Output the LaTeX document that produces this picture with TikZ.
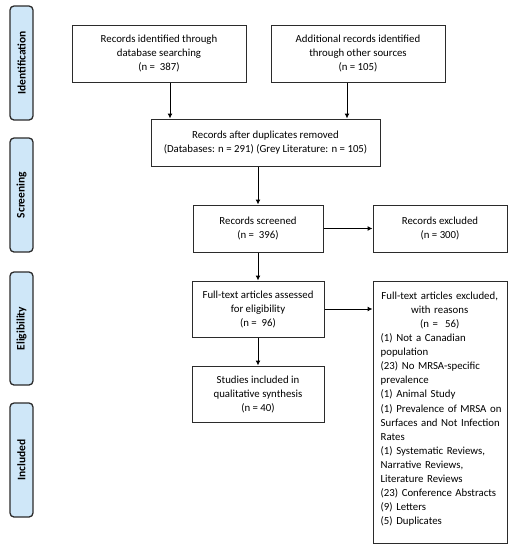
\documentclass[tikz,border=0pt]{standalone}
\usepackage{fontspec}
\setmainfont{Carlito}
\usetikzlibrary{arrows.meta,calc}
\definecolor{tabfill}{HTML}{CFE7F8}
\definecolor{edge}{HTML}{2B2B2B}
\newcommand{\hdline}[1]{\makebox[118pt][c]{#1}}
\tikzset{
  box/.style={draw=edge, line width=1pt, fill=white, align=center, inner sep=2pt,
    font=\fontsize{10.8}{14}\selectfont},
  tab/.style={draw=edge, line width=1.3pt, fill=tabfill, rounded corners=4pt,
    minimum width=23pt, inner sep=0pt},
  tablabel/.style={rotate=90, inner sep=0pt, font=\fontsize{11.5}{13}\selectfont\bfseries},
  arr/.style={-{Latex[length=5pt,width=5pt]}, line width=1pt, draw=black},
}
\begin{document}
\begin{tikzpicture}[x=1pt,y=-1pt]
\useasboundingbox (0,0) rectangle (512,550);
% phase tabs
\node[tab, minimum height=114pt] (t1) at (21.5,63) {};
\node[tablabel] (t1l) at (t1.center) {Identification};
\node[tab, minimum height=114pt] (t2) at (21.5,195) {};
\node[tablabel] (t2l) at (t2.center) {Screening};
\node[tab, minimum height=113pt] (t3) at (21.5,328.5) {};
\node[tablabel] (t3l) at (t3.center) {Eligibility};
\node[tab, minimum height=114pt] (t4) at (21.5,460) {};
\node[tablabel] (t4l) at (t4.center) {Included};
% boxes
\node[box, minimum width=174pt, minimum height=57pt] (b1) at (159,53.5)
  {Records identified through\\ database searching\\ (n =~~387)};
\node[box, minimum width=174pt, minimum height=57pt] (b2) at (358,53.5)
  {Additional records identified\\ through other sources\\ (n = 105)};
\node[box, minimum width=229pt, minimum height=47pt] (b3) at (265.5,142.5)
  {Records after duplicates removed\\ (Databases: n = 291) (Grey Literature: n = 105)};
\node[box, minimum width=130pt, minimum height=47pt] (b4) at (258,228.5)
  {Records screened\\ (n =~~396)};
\node[box, minimum width=134pt, minimum height=47pt] (b5) at (440,228.5)
  {Records excluded\\ (n = 300)};
\node[box, minimum width=132pt, minimum height=56pt] (b6) at (258,309)
  {Full-text articles assessed\\ for eligibility\\ (n =~~96)};
\node[box, minimum width=134pt, minimum height=262pt] (b7) at (440,412) {};
\node[anchor=north west, inner sep=0pt, text width=150pt, align=left,
  font=\fontsize{10.8}{14.1}\selectfont] (b7t) at ($(b7.north west)+(8,11)$)
  {\hdline{Full-text articles excluded,}\\ \hdline{with reasons}\\ \hdline{(n =~~56)}\\
   (1) Not a Canadian\\ population\\ (23) No MRSA-specific\\ prevalence\\
   (1) Animal Study\\ (1) Prevalence of MRSA on\\ Surfaces and Not Infection\\ Rates\\
   (1) Systematic Reviews,\\ Narrative Reviews,\\ Literature Reviews\\
   (23) Conference Abstracts\\ (9) Letters\\ (5) Duplicates};
\node[box, minimum width=132pt, minimum height=56pt] (b8) at (258,394)
  {Studies included in\\ qualitative synthesis\\ (n = 40)};
% connectors
\draw[arr] (b1.south -| 170,0) -- (b3.north -| 170,0);
\draw[arr] (b2.south -| 347,0) -- (b3.north -| 347,0);
\draw[arr] (b3.south -| b4.north) -- (b4.north);
\draw[arr] (b4.east) -- (b5.west);
\draw[arr] (b4.south) -- (b6.north);
\draw[arr] (b6.east) -- (b6.east -| b7.west);
\draw[arr] (b6.south) -- (b8.north);
\end{tikzpicture}
\end{document}
